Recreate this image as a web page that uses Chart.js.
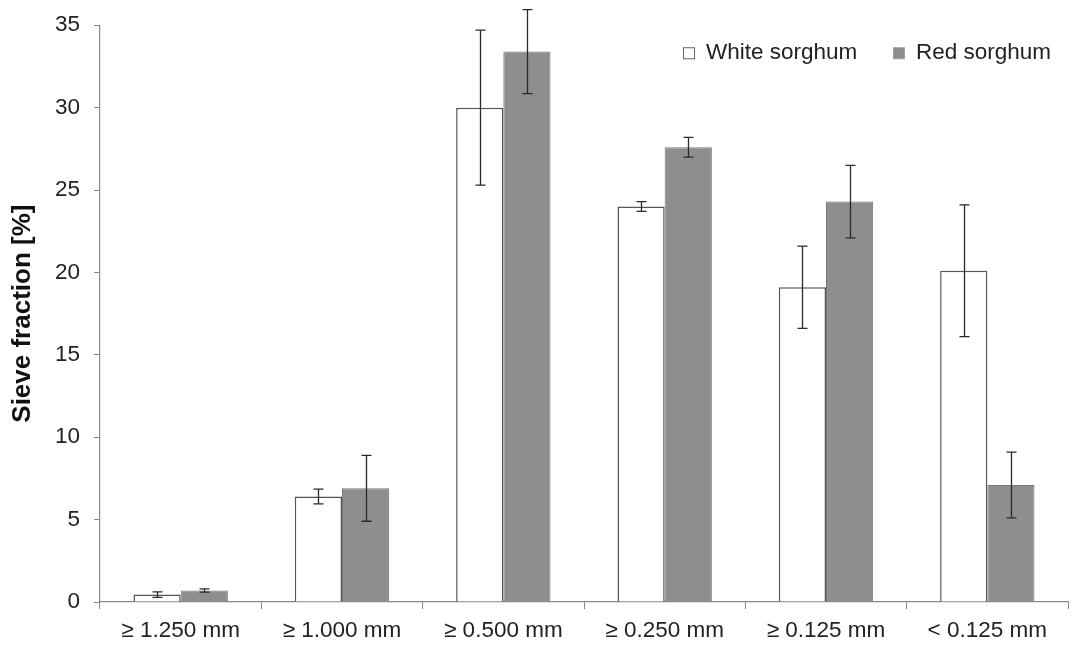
<!DOCTYPE html>
<html>
<head>
<meta charset="utf-8">
<script src="https://cdn.jsdelivr.net/npm/chart.js@4.4.0/dist/chart.umd.min.js"></script>
<style>
  html, body { margin: 0; padding: 0; background: #fff; }
  #wrap { width: 1073px; height: 646px; }
</style>
</head>
<body>
<div id="wrap"><canvas id="sieveChart"></canvas></div>
<script>
const categories = ['≥ 1.250 mm', '≥ 1.000 mm', '≥ 0.500 mm', '≥ 0.250 mm', '≥ 0.125 mm', '< 0.125 mm'];
const whiteValues = [0.45, 6.4, 30.0, 24.0, 19.1, 20.1];
const whiteErrors = [0.17, 0.45, 4.7, 0.3, 2.5, 4.0];
const redValues = [0.7, 6.9, 33.4, 27.6, 24.3, 7.1];
const redErrors = [0.1, 2.0, 2.55, 0.6, 2.2, 2.0];
const yTicks = [0, 5, 10, 15, 20, 25, 30, 35];

const fontFamily = 'Liberation Sans, Arial, sans-serif';

const errorBars = {
    id: 'errorBars',
    afterDatasetsDraw(chart) {
        const ctx = chart.ctx;
        const yScale = chart.scales.y;
        ctx.save();
        ctx.strokeStyle = '#2a2a2a';
        ctx.lineWidth = 1.3;
        chart.data.datasets.forEach((ds, i) => {
            const meta = chart.getDatasetMeta(i);
            meta.data.forEach((bar, j) => {
                const v = ds.data[j];
                const e = ds.errors[j];
                const top = yScale.getPixelForValue(v + e);
                const bottom = yScale.getPixelForValue(v - e);
                const x = Math.round(bar.x) + 0.5;
                ctx.beginPath();
                ctx.moveTo(x, top);
                ctx.lineTo(x, bottom);
                ctx.moveTo(x - 5, top);
                ctx.lineTo(x + 5, top);
                ctx.moveTo(x - 5, bottom);
                ctx.lineTo(x + 5, bottom);
                ctx.stroke();
            });
        });
        ctx.restore();
    }
};

// legend drawn inside the plot, top right, like the original
const insideLegend = {
    id: 'insideLegend',
    afterDraw(chart) {
        const ctx = chart.ctx;
        const area = chart.chartArea;
        const items = [
            { ds: chart.data.datasets[0], box: 683, stroke: '#666666' },
            { ds: chart.data.datasets[1], box: 893, stroke: '#a0a0a0' }
        ];
        const cy = area.top + 28;
        ctx.save();
        ctx.font = '22.5px ' + fontFamily;
        ctx.textBaseline = 'middle';
        items.forEach(it => {
            ctx.fillStyle = it.ds.backgroundColor;
            ctx.fillRect(it.box, cy - 5.5, 11, 11);
            ctx.strokeStyle = it.stroke;
            ctx.lineWidth = 1;
            ctx.strokeRect(it.box + 0.5, cy - 5.5, 11, 11);
            ctx.fillStyle = '#222222';
            ctx.fillText(it.ds.label, it.box + 23, cy);
        });
        ctx.restore();
    }
};

const ctx = document.getElementById('sieveChart').getContext('2d');
new Chart(ctx, {
    type: 'bar',
    data: {
        labels: categories,
        datasets: [{
            label: 'White sorghum',
            data: whiteValues,
            errors: whiteErrors,
            backgroundColor: '#ffffff',
            borderColor: '#555555',
            borderWidth: 1.5,
            categoryPercentage: 0.585,
            barPercentage: 1.0
        }, {
            label: 'Red sorghum',
            data: redValues,
            errors: redErrors,
            backgroundColor: '#8e8e8e',
            borderColor: '#777777',
            borderWidth: 1,
            categoryPercentage: 0.585,
            barPercentage: 1.0
        }]
    },
    options: {
        responsive: true,
        maintainAspectRatio: false,
        animation: false,
        layout: { padding: { top: 24, right: 5, left: 0, bottom: 0 } },
        scales: {
            x: {
                grid: {
                    display: true,
                    drawOnChartArea: false,
                    tickLength: 7,
                    color: '#888888'
                },
                border: { color: '#888888', width: 1.2 },
                ticks: {
                    color: '#222222',
                    font: { family: fontFamily, size: 22.5 },
                    padding: 8,
                    maxRotation: 0
                },
                afterFit(scale) { scale.height = 44; }
            },
            y: {
                min: 0,
                max: 35,
                afterBuildTicks(scale) { scale.ticks = yTicks.map(v => ({ value: v })); },
                grid: {
                    display: true,
                    drawOnChartArea: false,
                    tickLength: 6,
                    color: '#888888'
                },
                border: { color: '#888888', width: 1.2 },
                ticks: {
                    color: '#222222',
                    font: { family: fontFamily, size: 22.5, lineHeight: 1.0 },
                    padding: 14
                },
                title: {
                    display: true,
                    text: 'Sieve fraction [%]',
                    color: '#111111',
                    font: { family: fontFamily, size: 26, weight: 'bold' },
                    padding: { top: 7, bottom: 4 }
                },
                afterFit(scale) { scale.width = 100; }
            }
        },
        plugins: {
            legend: { display: false },
            tooltip: { enabled: false }
        }
    },
    plugins: [errorBars, insideLegend]
});
</script>
</body>
</html>
